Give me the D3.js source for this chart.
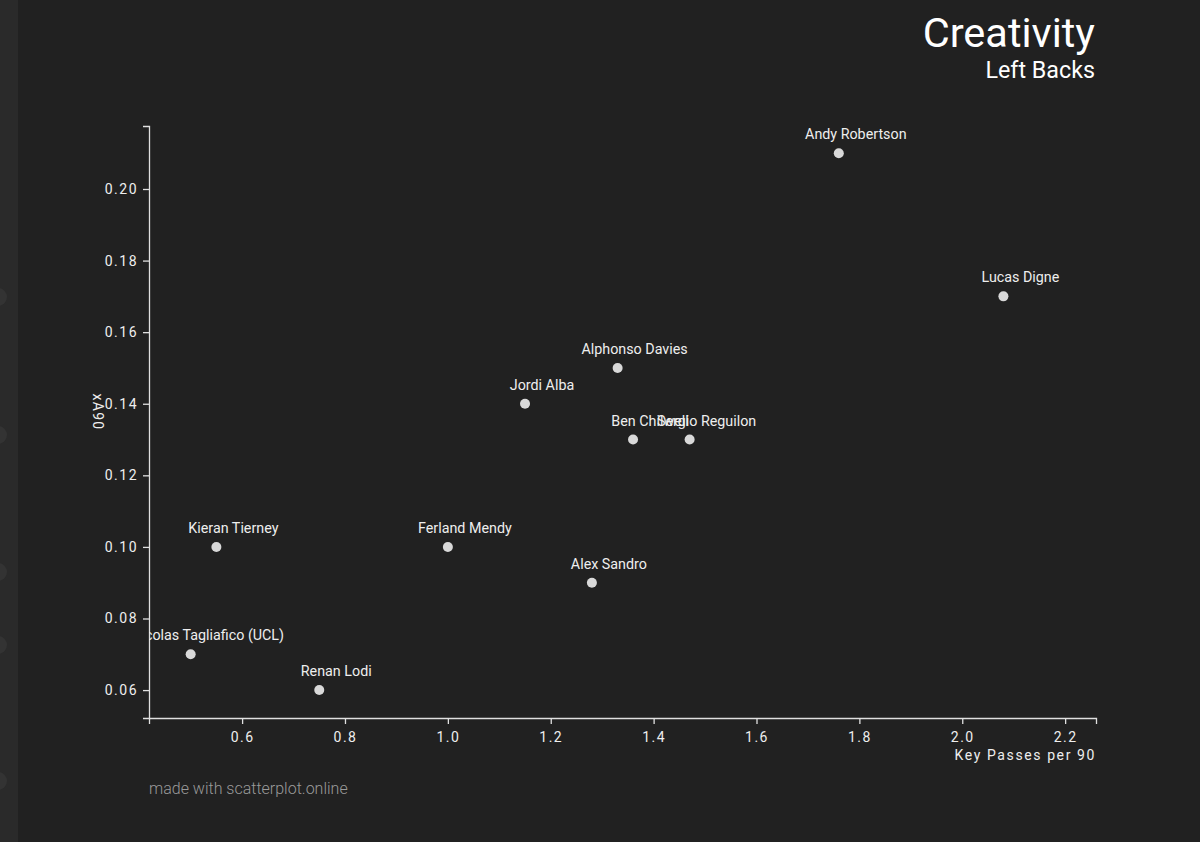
<!DOCTYPE html>
<html><head><meta charset="utf-8">
<script src="https://cdn.jsdelivr.net/npm/d3@7"></script>
<style>
html,body{margin:0;padding:0;background:#212121;}
svg{display:block;font-family:Roboto,sans-serif;}
</style></head>
<body>
<svg id="c" width="1200" height="842"></svg>
<script>
const players = ["Andy Robertson","Lucas Digne","Alphonso Davies","Jordi Alba","Ben Chilwell","Sergio Reguilon","Kieran Tierney","Ferland Mendy","Alex Sandro","Nicolas Tagliafico (UCL)","Renan Lodi"];
const keyPasses = [1.76,2.08,1.33,1.15,1.36,1.47,0.55,1.00,1.28,0.50,0.75];
const xa90 = [0.21,0.17,0.15,0.14,0.13,0.13,0.10,0.10,0.09,0.07,0.06];
const xTicks = [0.6,0.8,1.0,1.2,1.4,1.6,1.8,2.0,2.2];
const yTicks = [0.06,0.08,0.10,0.12,0.14,0.16,0.18,0.20];

const svg = d3.select("#c");
// left strip
svg.append("rect").attr("x",0).attr("y",0).attr("width",18).attr("height",842).attr("fill","#2a2a2a");
[297,435,572,645,781].forEach(cy=>svg.append("circle").attr("cx",-2).attr("cy",cy).attr("r",9).attr("fill","#333"));

const L=149,R=1096,T=126,B=718;
const x = d3.scaleLinear().domain([0.419,2.26]).range([L,R]);
const y = d3.scaleLinear().domain([0.0522,0.2176]).range([B,T]);

const fmtX = d3.format(".1f"), fmtY = d3.format(".2f");
const gx = svg.append("g").attr("transform",`translate(0,${B})`).call(d3.axisBottom(x).tickValues(xTicks).tickFormat(fmtX).tickSize(6));
const gy = svg.append("g").attr("transform",`translate(${L},0)`).call(d3.axisLeft(y).tickValues(yTicks).tickFormat(fmtY).tickSize(6));
[gx,gy].forEach(g=>{
  g.selectAll("path,line").attr("stroke","#e0e0e0").attr("stroke-width",1.3);
  g.selectAll("text").attr("fill","#eeeeee").style("font-size","14px").style("letter-spacing","1.5px").style("font-family","Roboto,sans-serif");
});
gx.selectAll("text").attr("dy","1.05em");
gy.selectAll("text").attr("x",-11);

svg.append("defs").append("clipPath").attr("id","clip").append("rect").attr("x",L).attr("y",0).attr("width",R-L+100).attr("height",B);

const plot = svg.append("g").attr("clip-path","url(#clip)");
const idx = d3.range(players.length);
plot.selectAll("circle.pt").data(idx).join("circle").attr("class","pt")
  .attr("cx",i=>x(keyPasses[i])).attr("cy",i=>y(xa90[i])).attr("r",5).attr("fill","#d9d9d9");
plot.selectAll("text.lb").data(idx).join("text").attr("class","lb")
  .attr("x",i=>x(keyPasses[i])).attr("dx",17).attr("y",i=>y(xa90[i])-14).attr("text-anchor","middle")
  .attr("fill","#eeeeee").style("font-size","14.3px").text(i=>players[i]);

svg.append("text").attr("transform",`translate(93,412) rotate(90)`).attr("text-anchor","middle")
  .attr("fill","#eeeeee").style("font-size","14px").style("letter-spacing","1.3px").text("xA90");
svg.append("text").attr("x",R).attr("y",760).attr("text-anchor","end")
  .attr("fill","#eeeeee").style("font-size","14px").style("letter-spacing","1.6px").text("Key Passes per 90");

svg.append("text").attr("x",1095).attr("y",47).attr("text-anchor","end").attr("fill","#ffffff").style("font-size","41.5px").text("Creativity");
svg.append("text").attr("x",1095).attr("y",78).attr("text-anchor","end").attr("fill","#ffffff").style("font-size","23.3px").text("Left Backs");
svg.append("text").attr("x",149).attr("y",794).attr("fill","#9a9a9a").style("font-size","16px").style("font-weight","300").text("made with scatterplot.online");
</script>
</body></html>
